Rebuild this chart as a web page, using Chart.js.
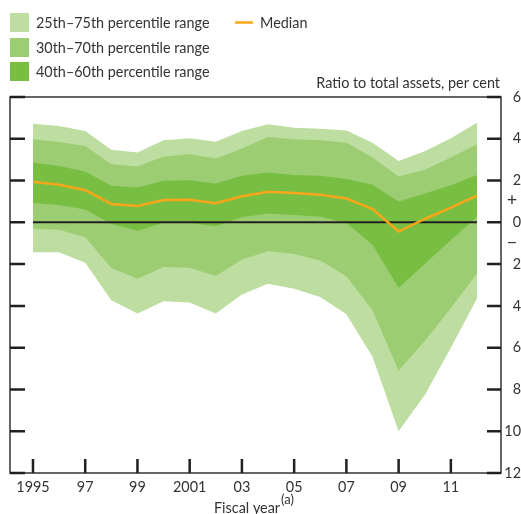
<!DOCTYPE html>
<html>
<head>
<meta charset="utf-8">
<script src="https://cdn.jsdelivr.net/npm/chart.js@4.4.1/dist/chart.umd.min.js"></script>
<style>
  html, body { margin: 0; padding: 0; background: #fff; }
</style>
</head>
<body>
<canvas id="chart" width="521" height="514"></canvas>
<script>
// fiscal years on the x axis
const years = [1995, 1996, 1997, 1998, 1999, 2000, 2001, 2002, 2003, 2004, 2005, 2006, 2007, 2008, 2009, 2010, 2011, 2012];

// percentiles, ratio to total assets (per cent)
const p75 = [4.72, 4.61, 4.37, 3.47, 3.34, 3.93, 4.02, 3.86, 4.37, 4.69, 4.53, 4.48, 4.40, 3.81, 2.94, 3.40, 4.02, 4.77];
const p70 = [3.98, 3.85, 3.66, 2.78, 2.67, 3.15, 3.26, 3.05, 3.53, 4.09, 3.98, 3.93, 3.81, 3.10, 2.19, 2.52, 3.10, 3.74];
const p60 = [2.86, 2.70, 2.43, 1.75, 1.67, 1.99, 2.02, 1.86, 2.23, 2.38, 2.27, 2.23, 2.07, 1.80, 1.00, 1.38, 1.78, 2.27];
const median = [1.94, 1.80, 1.54, 0.88, 0.78, 1.07, 1.08, 0.91, 1.25, 1.46, 1.40, 1.32, 1.14, 0.64, -0.44, 0.16, 0.70, 1.28];
const p40 = [0.92, 0.83, 0.61, -0.08, -0.40, -0.02, -0.03, -0.19, 0.24, 0.42, 0.35, 0.27, -0.03, -1.07, -3.13, -2.00, -0.85, 0.24];
const p30 = [-0.31, -0.36, -0.72, -2.19, -2.70, -2.14, -2.17, -2.57, -1.78, -1.38, -1.51, -1.83, -2.58, -4.21, -7.11, -5.68, -4.10, -2.46];
const p25 = [-1.43, -1.43, -1.94, -3.73, -4.37, -3.78, -3.84, -4.37, -3.46, -2.94, -3.18, -3.58, -4.40, -6.44, -10.0, -8.26, -6.00, -3.65];
const zero = [0, 0, 0, 0, 0, 0, 0, 0, 0, 0, 0, 0, 0, 0, 0, 0, 0, 0];

const xTickYears = [1995, 1997, 1999, 2001, 2003, 2005, 2007, 2009, 2011];
const xTickLabels = ['1995', '97', '99', '2001', '03', '05', '07', '09', '11'];

const legendNames = ['25th–75th percentile range', '30th–70th percentile range', '40th–60th percentile range', 'Median'];

const LIGHT = 'rgb(189,222,160)';
const MID = 'rgb(157,205,114)';
const DARK = 'rgb(120,190,67)';
const ORANGE = 'rgb(248,166,26)';
const INK = '#231f20';
const TEXT = '#333333';
const FONT = 'Lato, "Open Sans", sans-serif';

const pts = arr => years.map((yr, i) => ({ x: yr, y: arr[i] }));

const extras = {
  id: 'extras',
  afterDraw(chart) {
    const ctx = chart.ctx;
    const a = chart.chartArea;
    const xs = chart.scales.x;
    const ys = chart.scales.y;
    ctx.save();

    // frame
    ctx.strokeStyle = '#333';
    ctx.lineWidth = 1.5;
    ctx.strokeRect(a.left, a.top, a.right - a.left, a.bottom - a.top);

    // tick marks, drawn inside the box
    ctx.strokeStyle = INK;
    ctx.lineWidth = 2.5;
    ctx.beginPath();
    ys.ticks.forEach(t => {
      const py = ys.getPixelForValue(t.value);
      ctx.moveTo(a.left, py); ctx.lineTo(a.left + 15, py);
      ctx.moveTo(a.right - 14, py); ctx.lineTo(a.right, py);
    });
    xTickYears.forEach(v => {
      const px = xs.getPixelForValue(v);
      ctx.moveTo(px, a.bottom); ctx.lineTo(px, a.bottom - 14);
    });
    ctx.stroke();

    ctx.fillStyle = TEXT;
    ctx.textBaseline = 'middle';

    // + / - signs on the right axis
    ctx.font = '18px ' + FONT;
    ctx.textAlign = 'center';
    ctx.fillText('+', 512, ys.getPixelForValue(1) - 1);
    ctx.fillText('−', 512, ys.getPixelForValue(-1) - 1);

    // axis titles
    ctx.font = '14.4px ' + FONT;
    ctx.textAlign = 'right';
    ctx.fillText('Ratio to total assets, per cent', 500, 83);
    ctx.textAlign = 'left';
    ctx.fillText('Fiscal year', 214, 508);
    const w = ctx.measureText('Fiscal year').width;
    ctx.font = '13px ' + FONT;
    ctx.fillText('(a)', 214 + w + 1, 500);

    // legend
    ctx.font = '14.4px ' + FONT;
    const boxes = [LIGHT, MID, DARK];
    const rows = [13, 38, 62];
    boxes.forEach((c, i) => {
      ctx.fillStyle = c;
      ctx.fillRect(10, rows[i], 19, 19);
      ctx.fillStyle = TEXT;
      ctx.fillText(legendNames[i], 36, rows[i] + 10);
    });
    ctx.strokeStyle = ORANGE;
    ctx.lineWidth = 2.5;
    ctx.beginPath();
    ctx.moveTo(235, 22.5); ctx.lineTo(253, 22.5);
    ctx.stroke();
    ctx.fillStyle = TEXT;
    ctx.fillText(legendNames[3], 260, 23);

    ctx.restore();
  }
};

new Chart(document.getElementById('chart'), {
  type: 'line',
  data: {
    datasets: [
      { label: 'Median', data: pts(median), borderColor: ORANGE, borderWidth: 2.5, fill: false },
      { label: 'Zero', data: pts(zero), borderColor: INK, borderWidth: 2, fill: false },
      { label: '60th', data: pts(p60), borderWidth: 0, borderColor: 'transparent', backgroundColor: DARK, fill: 3 },
      { label: '40th', data: pts(p40), borderWidth: 0, borderColor: 'transparent', fill: false },
      { label: '70th', data: pts(p70), borderWidth: 0, borderColor: 'transparent', backgroundColor: MID, fill: 5 },
      { label: '30th', data: pts(p30), borderWidth: 0, borderColor: 'transparent', fill: false },
      { label: '75th', data: pts(p75), borderWidth: 0, borderColor: 'transparent', backgroundColor: LIGHT, fill: 7 },
      { label: '25th', data: pts(p25), borderWidth: 0, borderColor: 'transparent', fill: false }
    ]
  },
  options: {
    responsive: false,
    animation: false,
    layout: { padding: { top: 97, left: 10, right: 0, bottom: 0 } },
    elements: { point: { radius: 0 }, line: { tension: 0 } },
    plugins: { legend: { display: false }, tooltip: { enabled: false } },
    scales: {
      x: {
        type: 'linear',
        min: 1994.12,
        max: 2012.92,
        grid: { display: false, drawTicks: false },
        border: { display: false },
        afterBuildTicks: s => { s.ticks = xTickYears.map(v => ({ value: v })); },
        afterFit: s => { s.height = 41; },
        ticks: {
          autoSkip: false,
          maxRotation: 0,
          padding: 6,
          color: TEXT,
          font: { family: FONT, size: 14.4 },
          callback: v => xTickLabels[xTickYears.indexOf(v)]
        }
      },
      y: {
        position: 'right',
        min: -12,
        max: 6,
        grid: { display: false, drawTicks: false },
        border: { display: false },
        afterFit: s => { s.width = 20; },
        ticks: {
          stepSize: 2,
          crossAlign: 'far',
          padding: 3,
          color: TEXT,
          font: { family: FONT, size: 14.4 },
          callback: v => String(Math.abs(v))
        }
      }
    }
  },
  plugins: [extras]
});
</script>
</body>
</html>
